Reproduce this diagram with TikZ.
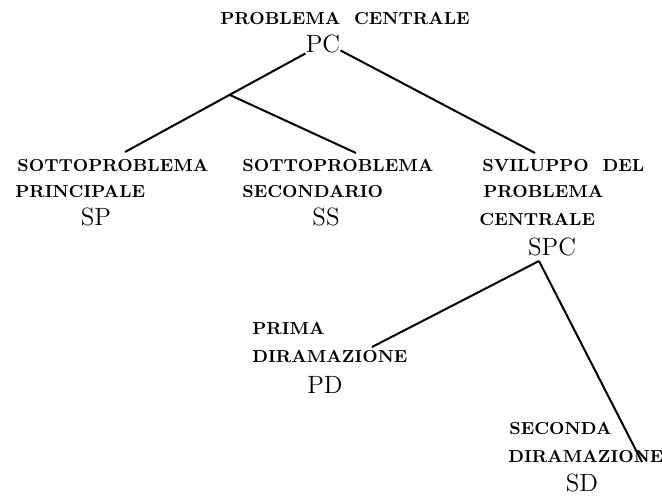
\documentclass[tikz,border=0pt]{standalone}
\usetikzlibrary{calc}

\newcommand\capfont{\fontsize{8.7}{10}\selectfont\bfseries}
\newcommand\tagfont{\fontsize{12.5}{15}\selectfont}

\begin{document}
\begin{tikzpicture}[
    x=0.5pt, y=-0.5pt,
    heading/.style={font=\capfont, inner sep=0pt, anchor=west},
    abbr/.style={font=\tagfont, inner sep=0pt},
    branch/.style={line width=1pt},
]
    \useasboundingbox (0,0) rectangle (662,498);

    % root
    \node[heading] (PCa) at (220,19) {PROBLEMA~~CENTRALE};
    \node[abbr] (PC) at (323,44) {PC};

    % first level
    \node[heading] (SPa) at (17,166) {SOTTOPROBLEMA};
    \node[heading] (SPb) at (15,191.5) {PRINCIPALE};
    \node[abbr] (SP) at (96,217) {SP};

    \node[heading] (SSa) at (242,166) {SOTTOPROBLEMA};
    \node[heading] (SSb) at (242,191.5) {SECONDARIO};
    \node[abbr] (SS) at (326,217) {SS};

    \node[heading] (SPCa) at (482,166) {SVILUPPO~~DEL};
    \node[heading] (SPCb) at (483,192) {PROBLEMA};
    \node[heading] (SPCc) at (479,220) {CENTRALE};
    \node[abbr] (SPC) at (552,247) {SPC};

    % second level
    \node[heading] (PDa) at (252,329) {PRIMA};
    \node[heading] (PDb) at (252,357) {DIRAMAZIONE};
    \node[abbr] (PD) at (325,385) {PD};

    \node[heading] (SDa) at (509,429) {SECONDA};
    \node[heading] (SDb) at (508,457) {DIRAMAZIONE};
    \node[abbr] (SD) at (582,483) {SD};

    % branch ends
    \coordinate (SPend) at (125,152);
    \coordinate (SSend) at (356,153);
    \coordinate (SPCend) at (535,153);
    \coordinate (SPCtip) at (539,261);
    \coordinate (PDend) at (372,347);
    \coordinate (SDend) at (642,462);
    \coordinate (fork) at ($(PC.south west)!0.42!(SPend)$);

    \draw[branch] (PC.south west) -- (SPend);
    \draw[branch] (fork) -- (SSend);
    \draw[branch] ($(PC.south east)+(0,-3)$) -- (SPCend);

    \draw[branch] (SPCtip) -- (PDend);
    \draw[branch] (SPCtip) -- (SDend);
\end{tikzpicture}
\end{document}
